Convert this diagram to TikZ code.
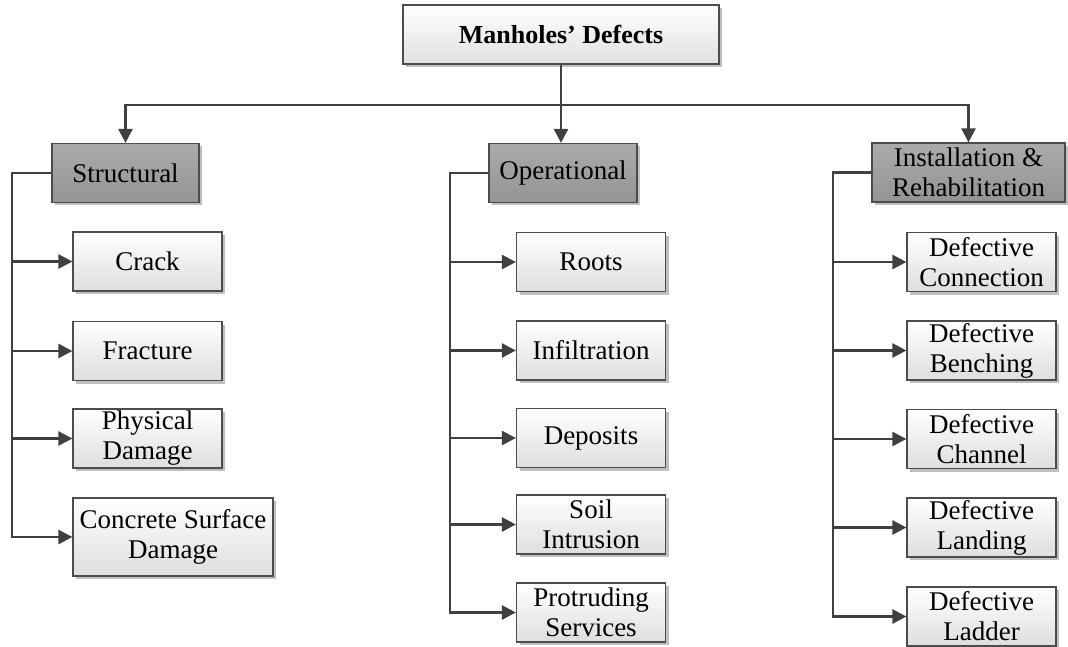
\documentclass[tikz,border=0pt]{standalone}
\usepackage{fontspec}
\setmainfont{Liberation Serif}
\usetikzlibrary{arrows.meta,shadows}

\tikzset{
  boxbase/.style={draw=black!70, line width=1.2pt, align=center, inner sep=2pt,
    font=\fontsize{27}{30}\selectfont,
    drop shadow={shadow xshift=3pt, shadow yshift=-3pt, fill=black!25, opacity=1}},
  rootbox/.style={boxbase, top color=white, bottom color=black!12,
    minimum width=316pt, minimum height=59pt,
    font=\fontsize{26}{30}\selectfont\bfseries},
  groupbox/.style={boxbase, top color=black!33, bottom color=black!42, minimum height=59pt},
  leafbox/.style={boxbase, top color=white, bottom color=black!13,
    minimum width=149pt, minimum height=59pt},
  wire/.style={draw=black!75, line width=2.6pt},
  feed/.style={wire, -{Triangle[length=14pt,width=14pt]}}
}

\begin{document}
\begin{tikzpicture}[x=1pt,y=-1pt]
\useasboundingbox (0,0) rectangle (1068,647);

% root
\node[rootbox] (root) at (561,34.5) {Manholes’ Defects};

% category headers
\node[groupbox, minimum width=147pt] (hs) at (125.5,173) {Structural};
\node[groupbox, minimum width=148pt] (ho) at (563,173) {Operational};
\node[groupbox, minimum width=193pt] (hi) at (968.5,172.5) {Installation \&\\Rehabilitation};

% structural defects
\node[leafbox] (s1) at (147.5,261.5) {Crack};
\node[leafbox] (s2) at (147.5,351) {Fracture};
\node[leafbox] (s3) at (147.5,438.5) {Physical\\Damage};
\node[leafbox, minimum width=200pt, minimum height=78pt] (s4) at (173,537) {Concrete Surface\\Damage};

% operational defects
\node[leafbox] (o1) at (591,262) {Roots};
\node[leafbox] (o2) at (591,350.5) {Infiltration};
\node[leafbox] (o3) at (591,438) {Deposits};
\node[leafbox] (o4) at (591,524.5) {Soil\\Intrusion};
\node[leafbox] (o5) at (591,612.5) {Protruding\\Services};

% installation & rehabilitation defects
\node[leafbox] (i1) at (981.5,262) {Defective\\Connection};
\node[leafbox] (i2) at (981.5,350.5) {Defective\\Benching};
\node[leafbox] (i3) at (981.5,439) {Defective\\Channel};
\node[leafbox] (i4) at (981.5,527.5) {Defective\\Landing};
\node[leafbox] (i5) at (981.5,616.5) {Defective\\Ladder};

% root to categories
\coordinate (bus) at (562,105);
\draw[feed] (root.south) -- (root.south |- ho.north);
\draw[feed] (bus) -| (hs.north);
\draw[feed] (bus) -| (hi.north);

% spines
\coordinate (sx) at (12,0);
\coordinate (ox) at (450,0);
\coordinate (ix) at (833,0);

\draw[feed] (hs.west) -| (sx |- s4.west) -- (s4.west);
\foreach \n in {s1,s2,s3} \draw[feed] (sx |- \n.west) -- (\n.west);

\draw[feed] (ho.west) -| (ox |- o5.west) -- (o5.west);
\foreach \n in {o1,o2,o3,o4} \draw[feed] (ox |- \n.west) -- (\n.west);

\draw[feed] (hi.west) -| (ix |- i5.west) -- (i5.west);
\foreach \n in {i1,i2,i3,i4} \draw[feed] (ix |- \n.west) -- (\n.west);
\end{tikzpicture}
\end{document}
